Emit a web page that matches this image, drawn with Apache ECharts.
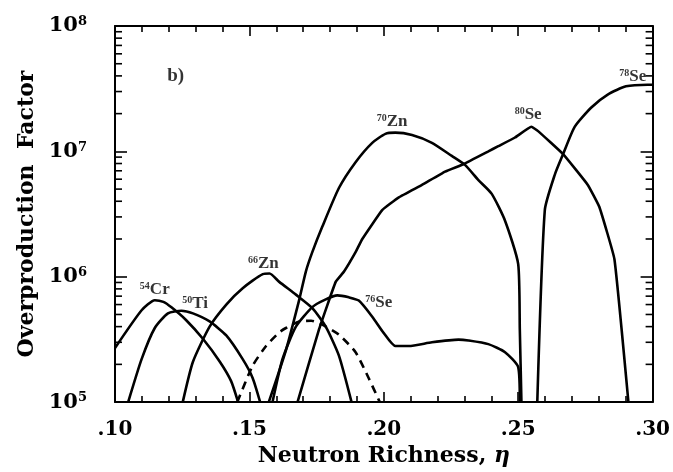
<!DOCTYPE html>
<html>
<head>
<meta charset="utf-8">
<script src="https://cdn.jsdelivr.net/npm/echarts@6/dist/echarts.min.js"></script>
<style>
  html, body { margin: 0; padding: 0; background: #fff; }
  #chart { width: 673px; height: 472px; }
</style>
</head>
<body>
<div id="chart"></div>
<script>
// axis ranges and ticks
const xMin = 0.10;
const xMax = 0.30;
const xTicks = [0.10, 0.15, 0.20, 0.25, 0.30];
const xTickLabels = [".10", ".15", ".20", ".25", ".30"];
const yTicks = [1e5, 1e6, 1e7, 1e8];
const yTickExp = ["5", "6", "7", "8"];
const yMinorTicks = [
  2e5, 3e5, 4e5, 5e5, 6e5, 7e5, 8e5, 9e5,
  2e6, 3e6, 4e6, 5e6, 6e6, 7e6, 8e6, 9e6,
  2e7, 3e7, 4e7, 5e7, 6e7, 7e7, 8e7, 9e7
];

// curves, [eta, overproduction factor]
const cr54 = [
  [0.1000, 2.7e5], [0.1099, 5.4e5], [0.1148, 6.5e5], [0.1180, 6.3e5],
  [0.1210, 5.7e5], [0.1265, 4.5e5], [0.1327, 3.2e5], [0.1390, 2.1e5],
  [0.1432, 1.47e5], [0.1458, 1.0e5]
];
const ti50 = [
  [0.1049, 1.0e5], [0.1099, 2.2e5], [0.1148, 3.9e5], [0.1197, 5.1e5],
  [0.1247, 5.35e5], [0.1290, 5.1e5], [0.1352, 4.4e5], [0.1414, 3.4e5],
  [0.1475, 2.2e5], [0.1512, 1.56e5], [0.1540, 1.0e5]
];
const zn66 = [
  [0.1252, 1.0e5], [0.1290, 2.1e5], [0.1352, 4.0e5], [0.1414, 6.0e5],
  [0.1475, 8.1e5], [0.1550, 1.05e6], [0.1575, 1.06e6], [0.1611, 9.1e5],
  [0.1673, 7.2e5], [0.1735, 5.6e5], [0.1784, 4.0e5], [0.1833, 2.35e5],
  [0.1880, 1.0e5]
];
const dashed = [
  [0.1455, 1.0e5], [0.1512, 1.95e5], [0.1562, 2.8e5], [0.1611, 3.6e5],
  [0.1636, 3.9e5], [0.1685, 4.4e5], [0.1730, 4.45e5], [0.1771, 4.15e5],
  [0.1833, 3.45e5], [0.1895, 2.5e5], [0.1944, 1.55e5], [0.1985, 1.0e5]
];
const zn70 = [
  [0.1572, 1.0e5], [0.1636, 2.6e5], [0.1685, 6.5e5], [0.1710, 1.1e6],
  [0.1734, 1.57e6], [0.1771, 2.5e6], [0.1833, 5.1e6], [0.1895, 8.2e6],
  [0.1957, 1.17e7], [0.2006, 1.38e7], [0.2043, 1.41e7], [0.2105, 1.35e7],
  [0.2179, 1.17e7], [0.2253, 9.2e6], [0.2302, 7.8e6], [0.2352, 5.9e6],
  [0.2401, 4.6e6], [0.2451, 2.8e6], [0.2500, 1.26e6], [0.2506, 3.8e5],
  [0.2512, 1.0e5]
];
const se76 = [
  [0.1586, 1.0e5], [0.1623, 2.2e5], [0.1673, 4.0e5], [0.1735, 5.75e5],
  [0.1784, 6.6e5], [0.1827, 7.1e5], [0.1870, 6.85e5], [0.1907, 6.45e5],
  [0.1957, 4.8e5], [0.2000, 3.55e5], [0.2043, 2.8e5], [0.2093, 2.8e5],
  [0.2179, 3.0e5], [0.2278, 3.15e5], [0.2315, 3.1e5], [0.2389, 2.9e5],
  [0.2451, 2.5e5], [0.2500, 1.9e5], [0.2506, 1.0e5]
];
const se80 = [
  [0.1679, 1.0e5], [0.1759, 3.8e5], [0.1821, 9.1e5], [0.1852, 1.1e6],
  [0.1895, 1.57e6], [0.1920, 2.0e6], [0.1994, 3.4e6], [0.2056, 4.3e6],
  [0.2142, 5.4e6], [0.2228, 6.9e6], [0.2296, 7.9e6], [0.2389, 1.0e7],
  [0.2426, 1.1e7], [0.2488, 1.29e7], [0.2549, 1.57e7], [0.2574, 1.45e7],
  [0.2667, 9.5e6], [0.2759, 5.4e6], [0.2802, 3.6e6], [0.2858, 1.38e6],
  [0.2910, 1.0e5]
];
const se78 = [
  [0.2571, 1.0e5], [0.2599, 3.4e6], [0.2636, 6.5e6], [0.2667, 9.5e6],
  [0.2710, 1.57e7], [0.2772, 2.24e7], [0.2833, 2.84e7], [0.2901, 3.3e7],
  [0.2981, 3.4e7], [0.3000, 3.4e7]
];

// curve labels: mass number, element, anchor point
const labelMass = ["54", "50", "66", "70", "76", "80", "78"];
const labelElem = ["Cr", "Ti", "Zn", "Zn", "Se", "Se", "Se"];
const labelEta = [0.1148, 0.1298, 0.1552, 0.2031, 0.1981, 0.2537, 0.2926];
const labelVal = [7.9e5, 6.1e5, 1.27e6, 1.72e7, 6.27e5, 1.97e7, 3.95e7];
const panelTag = { text: "b)", eta: 0.1226, val: 3.96e7 };

const serif = "'DejaVu Serif', 'Liberation Serif', serif";
const tserif = "'Liberation Serif', 'DejaVu Serif', serif";

function curve(data, dashedLine) {
  return {
    type: "line",
    data: data,
    showSymbol: false,
    symbol: "none",
    smooth: 0.2,
    clip: true,
    silent: true,
    lineStyle: {
      color: "#000",
      width: 2.6,
      type: dashedLine ? [8, 6] : "solid"
    }
  };
}

function minorTickItem(params, api) {
  var v = api.value(1);
  var l = api.coord([xMin, v]);
  var r = api.coord([xMax, v]);
  return {
    type: "group",
    children: [
      { type: "line", shape: { x1: l[0], y1: l[1], x2: l[0] + 7, y2: l[1] }, style: { stroke: "#000", lineWidth: 1.6 } },
      { type: "line", shape: { x1: r[0], y1: r[1], x2: r[0] - 7, y2: r[1] }, style: { stroke: "#000", lineWidth: 1.6 } }
    ]
  };
}

function xAxisOf(pos) {
  const bottom = pos === "bottom";
  return {
    type: "value",
    position: pos,
    min: xMin,
    max: xMax,
    interval: 0.05,
    name: bottom ? "Neutron Richness, {i|η}" : "",
    nameLocation: "middle",
    nameGap: 36,
    nameTextStyle: {
      fontFamily: serif, fontWeight: "bold", fontSize: 22, color: "#000",
      rich: { i: { fontFamily: serif, fontStyle: "italic", fontWeight: "bold", fontSize: 22, color: "#000" } }
    },
    axisLine: { show: true, onZero: false, lineStyle: { color: "#000", width: 2 } },
    axisTick: { show: true, inside: true, length: 10, lineStyle: { color: "#000", width: 1.6 } },
    minorTick: { show: true, splitNumber: 5, length: 6, lineStyle: { color: "#000", width: 1.6 } },
    splitLine: { show: false },
    axisLabel: {
      show: bottom,
      margin: 18,
      fontFamily: serif, fontWeight: "bold", fontSize: 20, color: "#000",
      formatter: function (v) {
        var i = xTicks.findIndex(t => Math.abs(t - v) < 1e-6);
        return i >= 0 ? xTickLabels[i] : "";
      }
    }
  };
}

function yAxisOf(pos) {
  const left = pos === "left";
  return {
    type: "log",
    logBase: 10,
    position: pos,
    min: 1e5,
    max: 1e8,
    name: left ? "Overproduction  Factor" : "",
    nameLocation: "middle",
    nameGap: 74,
    nameRotate: 90,
    nameTextStyle: { fontFamily: serif, fontWeight: "bold", fontSize: 22, color: "#000" },
    axisLine: { show: true, onZero: false, lineStyle: { color: "#000", width: 2 } },
    axisTick: { show: true, inside: true, length: 12, lineStyle: { color: "#000", width: 1.6 } },
    minorTick: { show: false },
    splitLine: { show: false },
    axisLabel: {
      show: left,
      margin: 28,
      formatter: function (v) {
        var i = yTicks.findIndex(t => Math.abs(Math.log10(t) - Math.log10(v)) < 1e-6);
        return i >= 0 ? "{b|10}{s|" + yTickExp[i] + "}" : "";
      },
      rich: {
        b: { fontFamily: serif, fontWeight: "bold", fontSize: 21, color: "#000", verticalAlign: "bottom" },
        s: { fontFamily: serif, fontWeight: "bold", fontSize: 13, color: "#000", verticalAlign: "top" }
      }
    }
  };
}

function makeOption() {
  const labelData = labelMass.map((m, i) => ({
    value: [labelEta[i], labelVal[i]],
    label: { formatter: "{m|" + m + "}{e|" + labelElem[i] + "}" }
  }));
  labelData.push({
    value: [panelTag.eta, panelTag.val],
    label: { formatter: "{t|" + panelTag.text + "}" }
  });

  return {
    animation: false,
    backgroundColor: "#fff",
    grid: { left: 115, right: 18, top: 26, bottom: 57, containLabel: false },
    xAxis: [xAxisOf("bottom"), xAxisOf("top")],
    yAxis: [yAxisOf("left"), yAxisOf("right")],
    series: [
      curve(cr54),
      curve(ti50),
      curve(zn66),
      curve(dashed, true),
      curve(zn70),
      curve(se76),
      Object.assign(curve(se80), { smooth: 0.1 }),
      curve(se78),
      {
        type: "custom",
        silent: true,
        clip: false,
        data: yMinorTicks.map(v => [xMin, v]),
        encode: { x: 0, y: 1 },
        renderItem: minorTickItem
      },
      {
        type: "scatter",
        silent: true,
        symbolSize: 0,
        data: labelData,
        label: {
          show: true,
          position: "inside",
          color: "#000",
          rich: {
            m: { fontFamily: tserif, fontWeight: "bold", fontSize: 10, color: "#000", verticalAlign: "top", lineHeight: 16 },
            e: { fontFamily: tserif, fontWeight: "bold", fontSize: 17, color: "#000", lineHeight: 16 },
            t: { fontFamily: tserif, fontWeight: "bold", fontSize: 19, color: "#000" }
          }
        }
      }
    ]
  };
}

const chart = echarts.init(document.getElementById("chart"), null, { renderer: "canvas" });
chart.setOption(makeOption());
</script>
</body>
</html>
